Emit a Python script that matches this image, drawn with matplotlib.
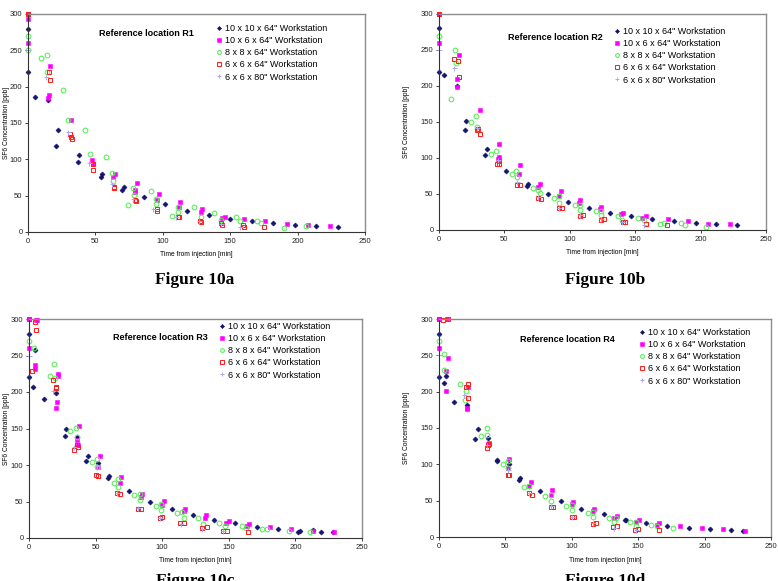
import matplotlib

matplotlib.use("Agg")

import matplotlib.pyplot as plt

plt.rcParams.update({
    "font.family": ["Liberation Sans", "DejaVu Sans"],
    "font.size": 6,
})

LABELS = ['10 x 10 x 64" Workstation', '10 x 6 x 64" Workstation',
          '8 x 8 x 64" Workstation', '6 x 6 x 64" Workstation',
          '6 x 6 x 80" Workstation']
TITLES = ["Reference location R1", "Reference location R2",
          "Reference location R3", "Reference location R4"]
CAPTIONS = ["Figure 10a", "Figure 10b", "Figure 10c", "Figure 10d"]
X_TICKS = [0, 50, 100, 150, 200, 250]
Y_TICKS = [0, 50, 100, 150, 200, 250, 300]

# ---- R1 ----
R1_NAVY_T = [0, 0, 5, 15, 21, 22, 37, 38, 54, 55, 70, 71, 86, 102, 118, 134, 150, 166, 182, 198, 214, 230]
R1_NAVY_C = [220, 280, 186, 181, 119, 140, 97, 106, 75, 80, 58, 62, 48, 38, 29, 23, 18, 15, 12, 10, 8, 6.5]
R1_MAG_T = [0, 0, 0, 15, 15.5, 16, 32, 47.5, 48.5, 63, 64.5, 79.5, 79.5, 80.5, 96, 97, 112, 113, 128, 129,
            144, 146, 160, 176, 192, 208, 224]
R1_MAG_C = [260, 293, 300, 185, 188, 228, 154, 99, 94, 75, 80, 55, 58, 67, 44, 52, 35, 41, 28, 31,
            19, 21, 18, 15, 11.5, 9, 8]
R1_GRN_T = [0, 0, 10, 14, 14, 26, 30, 42.5, 46, 58, 62, 63, 74.5, 78, 79, 91, 95, 95, 107, 111, 111,
            123, 128, 138, 143, 154, 157, 170, 173, 190, 206]
R1_GRN_C = [270, 250, 240, 243, 220, 196, 154, 140, 107, 103, 81, 70, 37, 61, 51, 57, 45, 38, 22, 35, 27,
            34, 21, 26, 17, 20, 15, 15.6, 13, 6, 8]
R1_RED_T = [0, 15.5, 16.5, 31, 32, 32.5, 48, 48, 63.5, 64, 79.5, 80, 95.5, 96, 111.5, 112, 127.5, 128,
            143.5, 144, 159.5, 160, 175]
R1_RED_C = [300, 220, 209, 135, 131, 128, 93, 85, 62, 60, 44, 42, 31, 29, 21, 20, 15, 14,
            12, 10, 9, 7, 7]
R1_LAV_T = [0, 13, 30, 45, 62, 78, 93, 110, 127, 143, 157]
R1_LAV_C = [250, 213, 137, 95, 66, 45, 31, 21, 15, 11, 7]

# ---- R2 ----
R2_NAVY_T = [0, 0, 4, 14, 20, 21, 35.5, 36.5, 51.5, 67, 68, 83, 99, 114.5, 131, 147, 163, 180, 196.5, 212, 228]
R2_NAVY_C = [220, 280, 215, 200, 139, 152, 104, 112, 82, 61, 64, 50, 39, 30, 24, 19, 15, 12, 9.7, 8.3, 6.5]
R2_MAG_T = [0, 0, 14, 14, 15, 31, 45, 46, 46, 61, 62, 76, 77, 92, 93, 107, 108, 123, 124, 139, 141,
            155, 158, 175, 190.5, 206, 222.5]
R2_MAG_C = [260, 300, 198, 210, 243, 167, 99, 101, 120, 78, 90, 60, 64, 47, 54, 37, 41, 29, 32, 22, 24,
            17, 19, 15, 12, 9, 8.3]
R2_GRN_T = [0, 9, 12.5, 13, 24.5, 28, 29, 40, 43.5, 56, 59, 60, 71.5, 76, 77, 88, 92, 92, 104, 108, 108,
            120, 124, 124, 137, 140, 152, 157, 169, 172, 185, 188, 204]
R2_GRN_C = [270, 182, 250, 232, 150, 159, 143, 105, 110, 78, 82, 73, 59, 56, 52, 45, 47, 38, 35, 35, 28,
            27, 26, 21, 20, 14, 16, 14, 8, 10, 10, 6.5, 3.7]
R2_RED_T = [0, 11.5, 14.5, 15, 29, 30, 31, 44, 45.5, 46, 60, 62, 76, 78, 92, 94, 108, 110, 124, 126,
            141, 142, 158, 174]
R2_RED_C = [300, 237, 235, 213, 139, 140, 134, 91, 92, 96, 63, 62, 45, 43, 30, 31, 20, 21, 14, 15,
            11.5, 11, 8.3, 7]
R2_LAV_T = [0, 11.5, 29, 45, 60, 76, 92, 108, 124, 140, 157]
R2_LAV_C = [250, 225, 142, 97, 66, 46, 31, 21, 15, 11, 7]

# ---- R3 ----
R3_NAVY_T = [0, 0, 3, 4.5, 11, 20, 27, 28, 36, 42.5, 44, 52, 59, 60, 75, 91, 107, 123, 139, 155, 171,
             187, 202, 203.5, 213, 219, 228]
R3_NAVY_C = [220, 280, 207, 257, 190, 198, 140, 150, 139, 106, 113, 103, 82, 85, 64, 50, 40, 31, 25, 20,
             15.5, 13, 7.8, 10, 10.5, 8.7, 7.8]
R3_MAG_T = [0, 0, 4.5, 4.5, 5.5, 6, 20.5, 21, 22, 22, 36, 37, 37.5, 52, 53.5, 68, 69, 84, 85, 100, 101,
            116, 117, 132, 133, 148, 150, 164, 165, 181, 197, 213.5, 229]
R3_MAG_C = [260, 300, 231, 237, 299, 298, 178, 186, 224, 222, 134, 127, 154, 97, 112, 76, 84, 56, 60, 45,
            51, 37, 40, 28, 31.5, 21, 23.7, 16, 18.7, 14.6, 11.9, 9.6, 7.8]
R3_GRN_T = [0, 4, 15.5, 19, 19.5, 31, 35, 36, 47.5, 51, 51, 63.5, 67, 67, 79, 83, 83, 95, 99, 99, 111,
            115, 116, 127, 131, 143, 147, 160, 163, 175, 179, 195, 211]
R3_GRN_C = [270, 260, 222, 239, 219, 146, 151, 139, 104, 108, 97, 75, 81, 70, 58.5, 60, 52, 44, 47, 38,
            34, 35, 28, 27, 19, 21, 16, 16, 13.7, 13, 12, 10, 8.2]
R3_RED_T = [0, 2.5, 4.5, 5, 18, 20, 20.5, 34, 36, 36.5, 50, 52, 66, 68, 82, 84, 98, 100, 113, 116,
            130, 134, 146, 149, 164.6]
R3_RED_C = [300, 229, 296, 285, 216, 207, 205, 121, 127, 125, 86, 85, 61, 60, 40, 40, 28, 29, 20, 20,
            14, 14.5, 9.6, 10, 8.7]
R3_LAV_T = [0, 18, 34, 51, 66, 82, 98, 114, 130, 146]
R3_LAV_C = [250, 201, 125, 98, 62, 41, 28, 19, 13, 9]

# ---- R4 ----
R4_NAVY_T = [0, 0, 4, 5, 11, 21, 27, 29, 37, 43.5, 44, 53, 60, 61, 76, 91.5, 107, 124, 140, 141, 156,
             172, 188, 204, 219.6, 229]
R4_NAVY_C = [220, 280, 212, 221, 186, 182, 135, 148, 136, 104.5, 106, 100, 79, 81, 63.5, 49, 38, 31,
             23.4, 24, 19.7, 15, 12.8, 11, 9.2, 8.3]
R4_MAG_T = [0, 0, 5, 5, 6.5, 6, 21, 21, 22, 37, 38, 52, 53, 68, 69, 84, 85, 100, 101, 116, 117, 132,
            134, 148, 150.6, 164, 166, 181.5, 198, 214, 230.5]
R4_MAG_C = [260, 300, 200.6, 228, 247, 300, 176, 178, 207, 128, 130, 95, 108, 70, 76, 58, 64, 45, 48,
            36, 39, 26, 29, 20, 23, 16, 18.8, 15, 12, 10.5, 7.8]
R4_GRN_T = [0, 4, 4, 16, 19.5, 20, 32, 36, 36, 48, 52, 52, 64, 68, 80, 84, 84, 96, 100, 100, 112, 116,
            116, 128, 132, 133, 144, 148, 148.5, 160, 164, 176]
R4_GRN_C = [270, 230, 252, 211, 188, 201, 138.5, 150, 140, 101, 105, 95, 68.6, 70, 57, 58, 50, 43, 44,
            37, 33, 34, 27, 26.6, 21, 26, 20.6, 15.6, 20, 17, 15, 13]
R4_RED_T = [0, 3, 7, 20, 22, 22, 36, 37, 38, 52, 53, 68, 70, 84, 86, 100, 102, 116, 118, 131, 134,
            147.6, 150, 165.7]
R4_RED_C = [300, 299, 300, 206, 211, 191, 123, 127, 128, 85, 85, 60, 58, 41, 41, 27, 28, 18, 19, 14,
            15, 10, 11, 9]
R4_LAV_T = [0, 19, 36, 52, 68, 84, 100, 116, 132, 148]
R4_LAV_C = [250, 196, 126, 92, 61, 42, 28, 19, 13, 9]

PANELS = [
    [(R1_NAVY_T, R1_NAVY_C), (R1_MAG_T, R1_MAG_C), (R1_GRN_T, R1_GRN_C), (R1_RED_T, R1_RED_C), (R1_LAV_T, R1_LAV_C)],
    [(R2_NAVY_T, R2_NAVY_C), (R2_MAG_T, R2_MAG_C), (R2_GRN_T, R2_GRN_C), (R2_RED_T, R2_RED_C), (R2_LAV_T, R2_LAV_C)],
    [(R3_NAVY_T, R3_NAVY_C), (R3_MAG_T, R3_MAG_C), (R3_GRN_T, R3_GRN_C), (R3_RED_T, R3_RED_C), (R3_LAV_T, R3_LAV_C)],
    [(R4_NAVY_T, R4_NAVY_C), (R4_MAG_T, R4_MAG_C), (R4_GRN_T, R4_GRN_C), (R4_RED_T, R4_RED_C), (R4_LAV_T, R4_LAV_C)],
]

STYLES = [
    dict(marker="D", ms=2.6, mfc="#14146e", mec="#14146e", mew=0.4),
    dict(marker="s", ms=3.0, mfc="#ff00ff", mec="#ff00ff", mew=0.4),
    dict(marker="o", ms=3.4, mfc="none", mec="#55ee55", mew=0.75),
    dict(marker="s", ms=3.2, mfc="none", mec="#ff2020", mew=0.75),
    dict(marker="+", ms=3.6, mfc="none", mec="#b0a8f0", mew=0.7),
]

W, H = 778, 581

# axes boxes in pixels: left, top, right, bottom
BOXES = [(28, 14, 365, 232), (439, 14, 766, 230), (29, 319, 362, 538), (439, 319, 771, 537)]
YLABEL_X = [7, 407, 7, 406]
TITLE_POS = [(146, 33), (555, 38), (160, 338), (567, 340)]
LEGEND_POS = [(216, 24), (614, 27), (219, 322), (639, 328)]
CAPTION_POS = [(195, 280), (605, 280), (195, 581), (605, 581)]

fig = plt.figure(figsize=(W / 100, H / 100), dpi=100)

for i, (l, t, r, b) in enumerate(BOXES):
    ax = fig.add_axes([l / W, 1 - b / H, (r - l) / W, (b - t) / H])
    for (xs, ys), st, lab in zip(PANELS[i], STYLES, LABELS):
        ax.plot(xs, ys, linestyle="none", label=lab, clip_on=False, **st)
    ax.set_xlim(0, 250)
    ax.set_ylim(0, 300)
    ax.set_xticks(X_TICKS)
    ax.set_yticks(Y_TICKS)
    ax.tick_params(labelsize=5.5, length=2, width=0.6, pad=2, colors="#222222")
    for s in ("top", "right"):
        ax.spines[s].set_color("#8c8c8c")
        ax.spines[s].set_linewidth(1.0)
    for s in ("left", "bottom"):
        ax.spines[s].set_color("#333333")
        ax.spines[s].set_linewidth(0.8)
    ax.set_xlabel("Time from injection [min]", fontsize=4.8, labelpad=5)
    ax.set_ylabel("SF6 Concentration [ppb]", fontsize=4.8, va="center")
    ax.yaxis.set_label_coords(-(l - YLABEL_X[i]) / (r - l), 0.5)
    fig.text(TITLE_POS[i][0] / W, 1 - TITLE_POS[i][1] / H, TITLES[i],
             ha="center", va="center", fontsize=6.5, fontweight="bold")
    fig.legend(*ax.get_legend_handles_labels(), loc="upper left",
               bbox_to_anchor=(LEGEND_POS[i][0] / W, 1 - LEGEND_POS[i][1] / H),
               frameon=False, fontsize=6.5, markerscale=0.8, handlelength=0.6,
               handletextpad=0.4, labelspacing=0.35, borderpad=0, borderaxespad=0)
    fig.text(CAPTION_POS[i][0] / W, 1 - CAPTION_POS[i][1] / H, CAPTIONS[i],
             ha="center", va="center", fontsize=12.5, fontweight="bold",
             family="Liberation Serif")

fig.savefig("out.png", dpi=100)
